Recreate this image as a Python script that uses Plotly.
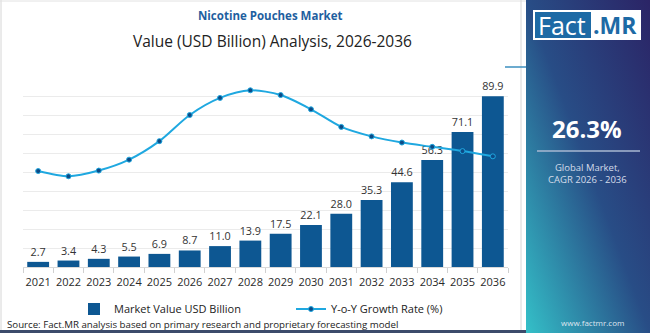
import base64
import plotly.graph_objects as go

# ---- data ----
years = ["2021", "2022", "2023", "2024", "2025", "2026", "2027", "2028",
         "2029", "2030", "2031", "2032", "2033", "2034", "2035", "2036"]
market_value = [2.7, 3.4, 4.3, 5.5, 6.9, 8.7, 11.0, 13.9,
                17.5, 22.1, 28.0, 35.3, 44.6, 56.3, 71.1, 89.9]
yoy_growth = [20.2, 19.1, 20.3, 22.6, 26.5, 32.0, 35.6, 37.2,
              36.2, 33.2, 29.5, 27.5, 26.2, 25.3, 24.4, 23.3]
value_labels = [f"{v:.1f}" for v in market_value]

cagr_text = "26.3%"
title_text = "Nicotine Pouches Market"
subtitle_text = "Value (USD Billion) Analysis, 2026-2036"
source_text = "Source: Fact.MR analysis based on primary research and proprietary forecasting model"

# ---- canvas geometry ----
W, H = 650, 333
ML, MR, MT, MB = 23, 142, 77, 66
PW, PH = W - ML - MR, H - MT - MB

FONT = "Open Sans"
BAR_COLOR = "#0d5792"
LINE_COLOR = "#1fa8e0"
DOT_COLOR = "#0c4a86"


def px(x):
    return (x - ML) / PW


def py(y):
    return (H - MB - y) / PH


fig = go.Figure()

fig.add_trace(go.Bar(
    x=years, y=market_value, name="Market Value USD Billion",
    marker=dict(color=BAR_COLOR, line=dict(width=0)),
    text=value_labels, textposition="outside", cliponaxis=False,
    textfont=dict(family=FONT, size=10.8, color="#333333"),
    hoverinfo="skip",
))

fig.add_trace(go.Scatter(
    x=years, y=yoy_growth, name="Y-o-Y Growth Rate (%)", yaxis="y2",
    mode="lines+markers",
    line=dict(color=LINE_COLOR, width=2, shape="spline", smoothing=0.8),
    marker=dict(color=DOT_COLOR, size=5, line=dict(color=LINE_COLOR, width=1)),
    cliponaxis=False, hoverinfo="skip",
))

# gradient side panel drawn as an svg image
svg = (
    '<svg xmlns="http://www.w3.org/2000/svg" width="124" height="333" '
    'preserveAspectRatio="none" viewBox="0 0 124 333">'
    '<defs><linearGradient id="g" x1="1" y1="0" x2="0" y2="1">'
    '<stop offset="0" stop-color="#2b2466"/>'
    '<stop offset="0.5" stop-color="#284d86"/>'
    '<stop offset="1" stop-color="#34c0c8"/>'
    '</linearGradient></defs>'
    '<rect width="124" height="333" fill="url(#g)"/></svg>'
)
svg_uri = "data:image/svg+xml;base64," + base64.b64encode(svg.encode()).decode()

images = [dict(
    source=svg_uri, xref="paper", yref="paper",
    x=px(526), y=py(0), sizex=px(650) - px(526), sizey=py(0) - py(333),
    xanchor="left", yanchor="top", sizing="stretch", layer="below",
)]

shapes = [
    # frame of the chart area
    dict(type="line", xref="paper", yref="paper", x0=px(1), x1=px(1),
         y0=py(0), y1=py(331), line=dict(color="#d6d6d6", width=1)),
    dict(type="line", xref="paper", yref="paper", x0=px(0), x1=px(526),
         y0=py(1), y1=py(1), line=dict(color="#e2e2e2", width=1)),
    dict(type="line", xref="paper", yref="paper", x0=px(521), x1=px(521),
         y0=py(0), y1=py(331), line=dict(color="#d6d6d6", width=1)),
    dict(type="line", xref="paper", yref="paper", x0=px(505), x1=px(526),
         y0=py(67), y1=py(67), line=dict(color="#3b8fbf", width=1.5)),
    dict(type="rect", xref="paper", yref="paper", x0=px(0), x1=px(526),
         y0=py(330), y1=py(333), fillcolor="#3c4b6b", line=dict(width=0)),
    # logo box
    dict(type="rect", xref="paper", yref="paper", x0=px(533), x1=px(641),
         y0=py(10), y1=py(40), fillcolor="white", line=dict(width=0)),
    dict(type="rect", xref="paper", yref="paper", x0=px(535), x1=px(591),
         y0=py(12), y1=py(38), fillcolor="#1d6aa5", line=dict(width=0)),
    # divider under the CAGR figure
    dict(type="line", xref="paper", yref="paper", x0=px(537), x1=px(640),
         y0=py(151), y1=py(151), line=dict(color="#a9b8d2", width=1.5)),
]

annotations = [
    dict(text=f"<b>{title_text}</b>", x=px(270), y=py(16),
         font=dict(family=FONT, size=11.5, color="#1f5f9f")),
    dict(text=subtitle_text, x=px(272), y=py(41),
         font=dict(family=FONT, size=15.5, color="#222222")),
    dict(text=source_text, x=px(5), y=py(324), xanchor="left",
         font=dict(family=FONT, size=9.7, color="#222222")),
    dict(text="Fact", x=px(562), y=py(25),
         font=dict(family=FONT, size=25, color="white")),
    dict(text="<b>.MR</b>", x=px(615), y=py(25),
         font=dict(family=FONT, size=23, color="#1d6aa5")),
    dict(text=f"<b>{cagr_text}</b>", x=px(587), y=py(128),
         font=dict(family=FONT, size=24, color="white")),
    dict(text="Global Market,<br>CAGR 2026 - 2036", x=px(587), y=py(173),
         font=dict(family=FONT, size=9.5, color="#d4dcea")),
    dict(text="www.factmr.com", x=px(592), y=py(322),
         font=dict(family=FONT, size=8, color="#dfe6f0")),
]
for a in annotations:
    a.update(xref="paper", yref="paper", showarrow=False)
    a.setdefault("xanchor", "center")
    a.setdefault("yanchor", "middle")

fig.update_layout(
    width=W, height=H,
    margin=dict(l=ML, r=MR, t=MT, b=MB, pad=0, autoexpand=False),
    paper_bgcolor="white", plot_bgcolor="white",
    font=dict(family=FONT, color="#222222"),
    bargap=0.28,
    showlegend=True,
    legend=dict(
        orientation="h", x=px(74), y=py(309), xanchor="left", yanchor="middle",
        font=dict(family=FONT, size=11, color="#222222"),
        itemwidth=30, entrywidth=172, entrywidthmode="pixels",
        bgcolor="rgba(0,0,0,0)", traceorder="normal",
    ),
    xaxis=dict(
        type="category", range=[-0.5, len(years) - 0.5],
        showgrid=False, showline=True, linecolor="#d9d9d9",
        ticks="outside", tickson="boundaries", ticklen=5, tickcolor="#d0d0d0",
        tickangle=0, automargin=False, ticklabelstandoff=5,
        tickfont=dict(family=FONT, size=11, color="#2a2a2a"),
        fixedrange=True,
    ),
    yaxis=dict(
        range=[0, 100], dtick=10, showgrid=True, gridcolor="#ebebeb",
        gridwidth=1, showticklabels=False, zeroline=False, fixedrange=True,
        automargin=False,
    ),
    yaxis2=dict(
        range=[0, 40], overlaying="y", side="right", showgrid=False,
        showticklabels=False, zeroline=False, fixedrange=True,
        automargin=False,
    ),
    images=images, shapes=shapes, annotations=annotations,
)

fig.write_html("out.html", config={"displayModeBar": False})
